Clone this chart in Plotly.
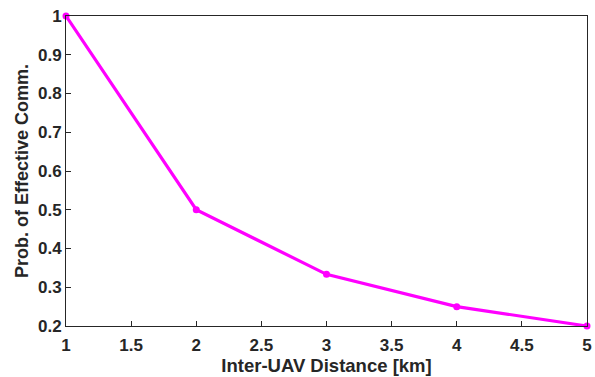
import plotly.graph_objects as go

distance_km = [1, 2, 3, 4, 5]
prob_effective = [1.0, 0.5, 0.3333, 0.25, 0.2]

x_ticks = [1, 1.5, 2, 2.5, 3, 3.5, 4, 4.5, 5]
x_tick_text = ["1", "1.5", "2", "2.5", "3", "3.5", "4", "4.5", "5"]
y_ticks = [0.2, 0.3, 0.4, 0.5, 0.6, 0.7, 0.8, 0.9, 1.0]
y_tick_text = ["0.2", "0.3", "0.4", "0.5", "0.6", "0.7", "0.8", "0.9", "1"]

font_family = "Liberation Sans, Arial, Helvetica, sans-serif"
ink = "#262626"

fig = go.Figure()
fig.add_trace(go.Scatter(
    x=distance_km,
    y=prob_effective,
    mode="lines+markers",
    line=dict(color="#ff00ff", width=3.2),
    marker=dict(color="#ff00ff", size=7, symbol="circle"),
    cliponaxis=False,
    showlegend=False,
))

axis_common = dict(
    showline=True,
    linecolor=ink,
    linewidth=1,
    mirror=True,
    ticks="inside",
    ticklen=5,
    tickwidth=1,
    tickcolor=ink,
    showgrid=False,
    zeroline=False,
    automargin=False,
    tickfont=dict(family=font_family, size=17, color=ink),
)

fig.update_xaxes(
    range=[1, 5],
    tickvals=x_ticks,
    ticktext=[f"<b>{t}</b>" for t in x_tick_text],
    ticklabelstandoff=4,
    title=dict(text="<b>Inter-UAV Distance [km]</b>",
               font=dict(family=font_family, size=18.5, color=ink),
               standoff=4),
    **axis_common,
)
fig.update_yaxes(
    range=[0.2, 1.0],
    tickvals=y_ticks,
    ticktext=[f"<b>{t}</b>" for t in y_tick_text],
    ticklabelstandoff=0,
    title=dict(text="<b>Prob. of Effective Comm.</b>",
               font=dict(family=font_family, size=18, color=ink),
               standoff=4),
    **axis_common,
)

fig.update_layout(
    width=595,
    height=377,
    margin=dict(l=66, r=8, t=16, b=51),
    paper_bgcolor="white",
    plot_bgcolor="white",
)

fig.write_html("out.html")
